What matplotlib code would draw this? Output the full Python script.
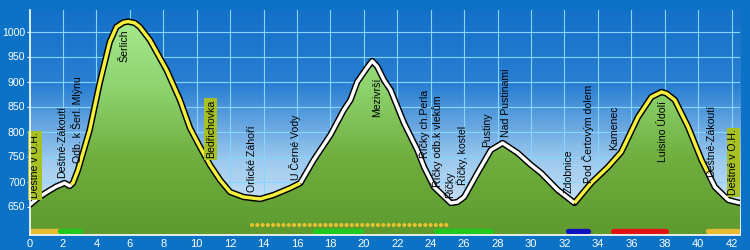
import numpy as np
import matplotlib.pyplot as plt
from matplotlib.colors import LinearSegmentedColormap

plt.rcParams['font.family'] = ['Liberation Sans', 'DejaVu Sans']

# elevation profile (km, m n.m.)
km = [0, 0.5, 1.05, 1.6, 2.1, 2.4, 2.6, 2.9, 3.6, 4.2, 4.8, 5.2, 5.6, 5.9, 6.3, 6.6,
      7.2, 8.2, 9.0, 9.6, 10.2, 10.8, 11.4, 12.0, 12.8, 13.8, 14.6, 15.6, 16.2, 17.0,
      18.0, 18.8, 19.2, 19.6, 20.2, 20.5, 20.8, 21.2, 21.6, 22.4, 23.2, 23.6, 24.2,
      24.7, 25.2, 25.6, 26.0, 26.8, 27.6, 28.3, 29.2, 30.0, 30.6, 31.6, 32.6, 33.6,
      34.6, 35.4, 36.4, 37.2, 37.8, 38.1, 38.6, 39.4, 40.2, 41.0, 41.8, 42.5]
elev = [653, 667, 679, 690, 697, 691, 697, 723, 803, 897, 979, 1009, 1018, 1020, 1017, 1009,
        983, 923, 863, 807, 769, 733, 703, 679, 669, 665, 673, 687, 697, 743,
        793, 843, 863, 899, 928, 941, 930, 903, 883, 817, 763, 729, 689,
        673, 657, 659, 669, 717, 763, 777, 757, 733, 717, 683, 657, 697,
        729, 759, 829, 869, 879, 876, 863, 809, 743, 689, 663, 657]

# line colour changes along the route
seg_edges = [0, 2.5, 16.2, 32.6, 40.6, 42.5]
seg_kind = ['white', 'yellow', 'white', 'yellow', 'white']

# waypoints
names = ['Deštné v O.H.', 'Deštné-Zákoutí', 'Odb. k Šerl. Mlýnu', 'Šerlich', 'Bedřichovka',
         'Orlické Záhoří', 'U Černé Vody', 'Mezivrší', 'Říčky ch.Perla', 'Říčky odb.k vlekům',
         'Říčky', 'Říčky, kostel', 'Pustiny', 'Nad Pustinami', 'Zdobnice', 'Pod Čertovým dolem',
         'Kamenec', 'Luisino Údolí', 'Deštné-Zákoutí', 'Deštné v O.H.']
name_km = [0.33, 1.95, 2.85, 5.7, 10.85, 13.3, 15.9, 20.8, 23.6, 24.4,
           25.1, 25.9, 27.4, 28.5, 32.25, 33.4, 35.0, 37.9, 40.75, 42.1]
name_base = [667, 707, 737, 939, 747, 679, 703, 829, 747, 689,
             667, 693, 769, 789, 677, 697, 763, 739, 709, 673]
boxed = [True, False, False, False, True, False, False, False, False, False,
         False, False, False, False, False, False, False, False, False, True]

# route markings at the bottom
bar_start = [0, 1.8, 17.1, 24.3, 32.2, 34.9, 40.6]
bar_end = [1.8, 3.0, 19.8, 27.6, 33.4, 38.1, 42.5]
bar_col = ['#e8bc32', '#22c81e', '#22c81e', '#22c81e', '#1010c0', '#e01414', '#e8bc32']
dots_start, dots_end = 13.3, 25.2

ymin, ymax = 593, 1043
xmax = 42.5

fig = plt.figure(figsize=(7.5, 2.5), dpi=100, facecolor='#0b72c6')
ax = fig.add_axes([29.5 / 750, 15 / 250, 710.5 / 750, 225 / 250])
ax.set_xlim(0, xmax)
ax.set_ylim(ymin, ymax)

grad = np.linspace(0, 1, 256).reshape(-1, 1)
sky = LinearSegmentedColormap.from_list('sky', ['#e4f1fb', '#9cc9ee', '#2a7fd2', '#1470c8'])
ax.imshow(grad, cmap=sky, extent=[0, xmax, ymin, ymax], aspect='auto', origin='lower', zorder=0)

for x in range(2, 43, 2):
    ax.axvline(x, color='#86d6ff', lw=0.8, zorder=1)
for y in range(650, 1001, 50):
    ax.axhline(y, color='#86d6ff', lw=0.8, zorder=1)

# green gradient under the profile
poly = ax.fill_between(km, elev, ymin, color='none', lw=0, zorder=2)
green = LinearSegmentedColormap.from_list('green', ['#5e9a2e', '#6fae3e', '#8fd470', '#a8ec92'])
im = ax.imshow(grad, cmap=green, extent=[0, xmax, ymin, ymax], aspect='auto', origin='lower', zorder=2)
im.set_clip_path(poly.get_paths()[0], transform=ax.transData)

ax.plot(km, elev, color='black', lw=4.6, solid_capstyle='round', solid_joinstyle='round', zorder=3)
line_colors = {'white': 'white', 'yellow': '#f5f03c'}
for a, b, kind in zip(seg_edges[:-1], seg_edges[1:], seg_kind):
    xs = [a] + [k for k in km if a < k < b] + [b]
    ys = np.interp(xs, km, elev)
    ax.plot(xs, ys, color=line_colors[kind], lw=2.5, solid_capstyle='butt',
            solid_joinstyle='round', zorder=4)

for s, e, c in zip(bar_start, bar_end, bar_col):
    ax.plot([s, e], [601, 601], color=c, lw=3.8, solid_capstyle='round', zorder=4)
ax.plot([dots_start, dots_end], [613, 613], color='#e8c030', lw=3.0,
        linestyle=(0, (0.01, 1.25)), dash_capstyle='round', zorder=4)

for n, x, y, b in zip(names, name_km, name_base, boxed):
    kw = {}
    if b:
        kw['bbox'] = dict(boxstyle='square,pad=0.15', fc='#a8c024', ec='none')
    ax.text(x, y, n, rotation=90, ha='center', va='bottom', fontsize=7.6,
            color='black', zorder=5, **kw)

ax.set_xticks(range(0, 43, 2))
ax.set_yticks(range(650, 1001, 50))
ax.tick_params(axis='x', direction='in', length=3, color='white', labelcolor='white',
               labelsize=8, pad=3)
ax.tick_params(axis='y', direction='out', length=2.5, color='white', labelcolor='white',
               labelsize=7.6, pad=0.5)
for side in ['top', 'right']:
    ax.spines[side].set_visible(False)
for side in ['left', 'bottom']:
    ax.spines[side].set_color('white')
    ax.spines[side].set_linewidth(1.2)
    ax.spines[side].set_zorder(6)

fig.savefig('out.png', dpi=100, facecolor=fig.get_facecolor())
